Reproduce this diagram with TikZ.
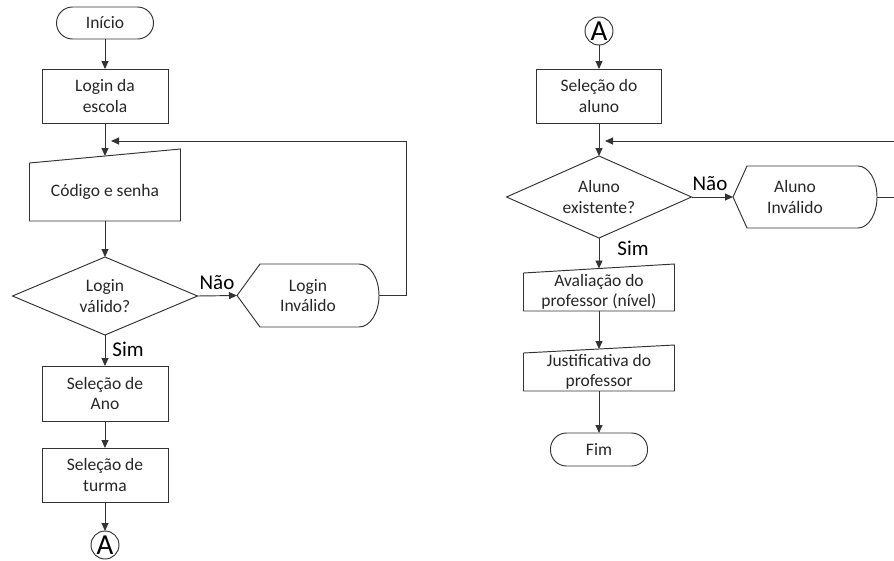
\documentclass[tikz,border=0pt]{standalone}
\usepackage{fontspec}
\setmainfont{Carlito}
\usetikzlibrary{arrows.meta,calc}
\begin{document}
\begin{tikzpicture}[x=1pt,y=-1pt,
  every node/.style={inner sep=0pt, outer sep=0pt},
  line/.style={draw=black!80, line width=0.95pt},
  arr/.style={line, -{Triangle[length=8pt,width=7pt]}},
  txt/.style={font=\fontsize{17.5}{20.5}\selectfont, text=black!85, align=center},
  proc/.style={line, txt, rectangle},
  term/.style={line, txt, rectangle, rounded corners=16pt},
  lab/.style={font=\fontsize{21}{24}\selectfont, text=black},
  conn/.style={line, circle, minimum size=28pt, font=\fontsize{29}{30}\selectfont},
]
\useasboundingbox (0,0) rectangle (894,560);

% ---------- left column ----------
\node[term, minimum width=97pt, minimum height=32pt] (ini) at (105,23) {Início};
\node[proc, minimum width=126pt, minimum height=54pt] (lde) at (105,96) {Login da\\escola};
\node[txt, minimum width=151pt, minimum height=58pt] (cs) at (105,192) {Código e senha};
\draw[line] (cs.south west) -- (cs.north west) -- ([yshift=14pt]cs.north east) -- (cs.south east) -- cycle;
\coordinate (csin) at ([yshift=7pt]cs.north);

\node[txt, minimum width=185pt, minimum height=78pt] (d1) at (105,296) {Login\\válido?};
\draw[line] (d1.north) -- (d1.east) -- (d1.south) -- (d1.west) -- cycle;

\node[txt, minimum width=142pt, minimum height=63pt] (li) at (308,295.5) {Login\\Inválido};
\draw[line] (li.west) -- ($(li.north west)+(23,0)$) -- ($(li.north east)+(-20,0)$)
  arc[start angle=90, end angle=-90, x radius=20pt, y radius=31.5pt]
  -- ($(li.south west)+(23,0)$) -- cycle;

\node[proc, minimum width=126pt, minimum height=55pt] (ano) at (105,393.5) {Seleção de\\Ano};
\node[proc, minimum width=126pt, minimum height=54pt] (tur) at (105,475) {Seleção de\\turma};
\node[conn] (ca) at (105,545) {A};

\draw[arr] (ini.south) -- (lde.north);
\draw[arr] (lde.south) -- (csin);
\draw[arr] (cs.south) -- (d1.north);
\draw[arr] (d1.east) -- (li.west);
\draw[arr] (d1.south) -- (ano.north);
\draw[arr] (ano.south) -- (tur.north);
\draw[arr] (tur.south) -- (ca.north);
\coordinate (lp) at (406,141);
\coordinate (j1) at (111,141);
\draw[arr] (li.east) -| (lp) -- (j1);

\node[lab] (nao1) at (217,283) {Não};
\node[lab] (sim1) at (128,349) {Sim};

% ---------- right column ----------
\node[conn] (cb) at (599,31) {A};
\node[proc, minimum width=125pt, minimum height=54pt] (sal) at (599,96) {Seleção do\\aluno};
\node[txt, minimum width=185pt, minimum height=82pt] (d2) at (599,197) {Aluno\\existente?};
\draw[line] (d2.north) -- (d2.east) -- (d2.south) -- (d2.west) -- cycle;

\node[txt, minimum width=144pt, minimum height=62pt] (ai) at (805,197) {};
\node[txt] (ait) at (795,197) {Aluno\\Inválido};
\draw[line] (ai.west) -- ($(ai.north west)+(14,0)$) -- ($(ai.north east)+(-19,0)$)
  arc[start angle=90, end angle=-90, x radius=19pt, y radius=31pt]
  -- ($(ai.south west)+(14,0)$) -- cycle;

\node[txt, minimum width=151pt, minimum height=38pt] (av) at (599,292) {Avaliação do\\professor (nível)};
\draw[line] (av.south west) -- (av.north west) -- ([yshift=9pt]av.north east) -- (av.south east) -- cycle;
\coordinate (avin) at ([yshift=4.5pt]av.north);

\node[txt, minimum width=151pt, minimum height=38pt] (ju) at (599,372) {Justificativa do\\professor};
\draw[line] (ju.south west) -- (ju.north west) -- ([yshift=8pt]ju.north east) -- (ju.south east) -- cycle;
\coordinate (juin) at ([yshift=4pt]ju.north);

\node[term, minimum width=97pt, minimum height=33pt] (fim) at (599,449.5) {Fim};

\draw[arr] (cb.south) -- (sal.north);
\draw[arr] (sal.south) -- (d2.north);
\draw[arr] (d2.east) -- (ai.west);
\draw[arr] (d2.south) -- (avin);
\draw[arr] (av.south) -- (juin);
\draw[arr] (ju.south) -- (fim.north);
\coordinate (rp) at (897,141);
\coordinate (j2) at (605,141);
\draw[arr] (ai.east) -| (rp) -- (j2);

\node[lab] (nao2) at (710,184) {Não};
\node[lab] (sim2) at (633,248) {Sim};
\end{tikzpicture}
\end{document}
